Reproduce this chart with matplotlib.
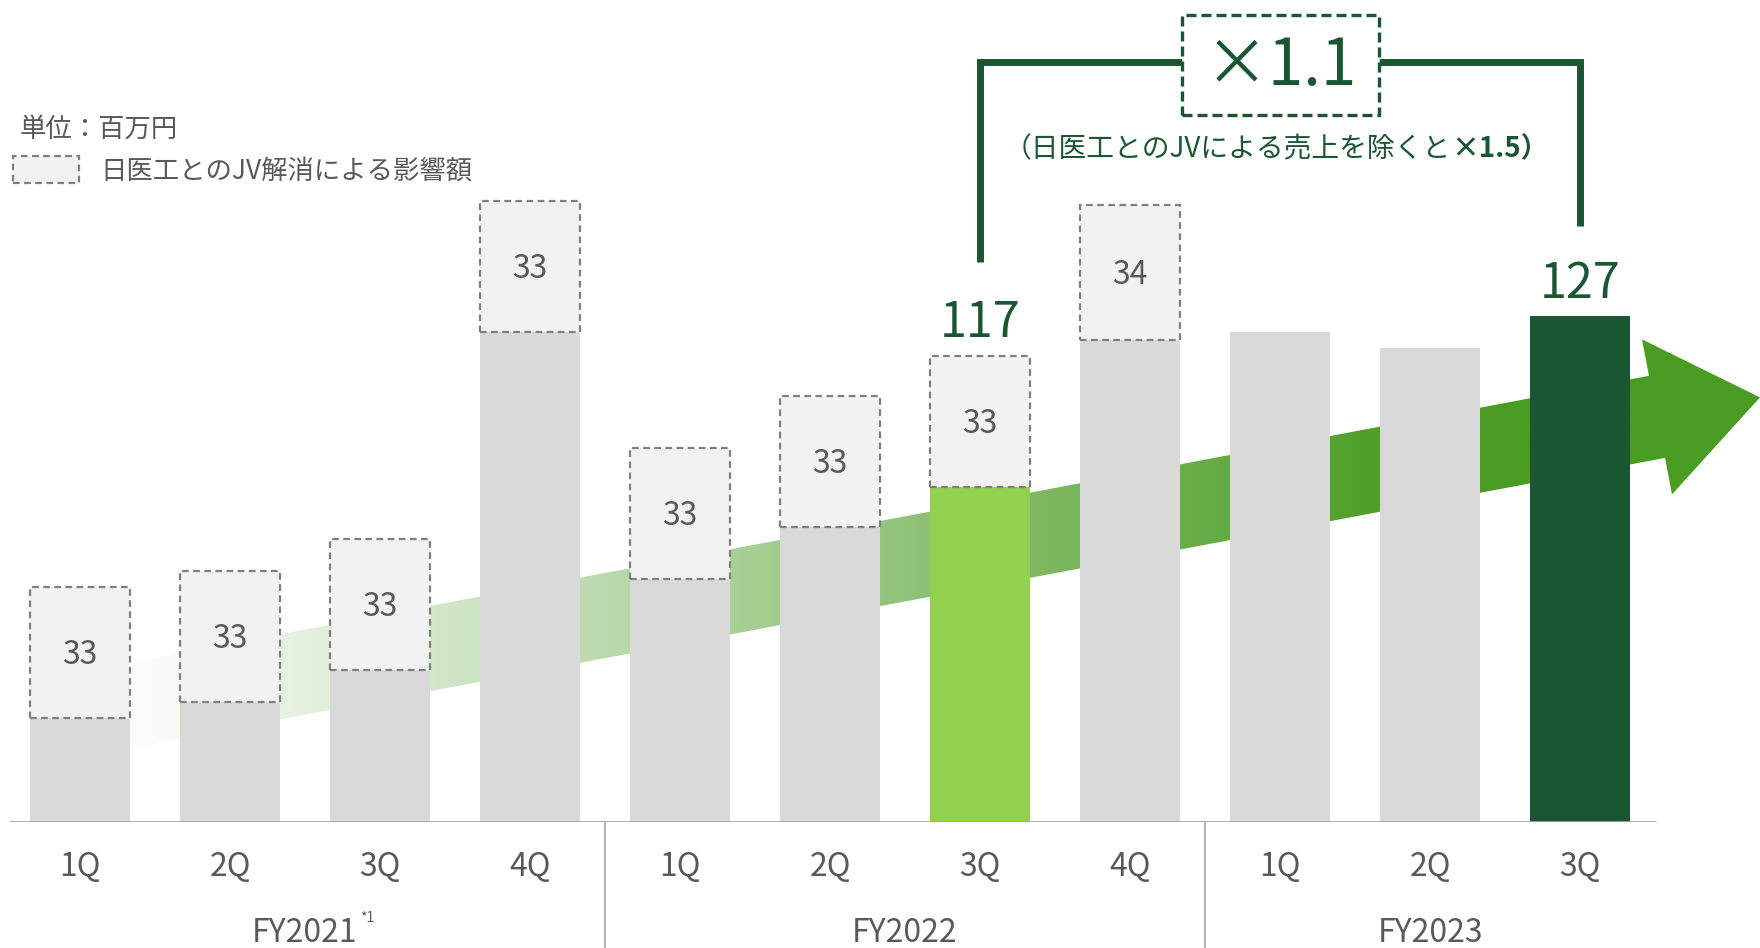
import numpy as np
import matplotlib.pyplot as plt
from matplotlib.colors import LinearSegmentedColormap
from matplotlib.patches import Polygon, Rectangle

plt.rcParams['font.family'] = ['Noto Sans CJK JP', 'DejaVu Sans']

# 四半期売上（単位：百万円）
quarters = ['1Q', '2Q', '3Q', '4Q', '1Q', '2Q', '3Q', '4Q', '1Q', '2Q', '3Q']
years = ['FY2021', 'FY2022', 'FY2023']
year_sizes = [4, 4, 3]
sales = [26, 30, 38, 123, 61, 74, 84, 121, 123, 119, 127]
jv_effect = [33, 33, 33, 33, 33, 33, 33, 34, 0, 0, 0]
highlight_prev = 6   # FY2022 3Q
highlight_now = 10   # FY2023 3Q

unit_label = '単位：百万円'
jv_label = '日医工とのJV解消による影響額'
ratio_label = '×1.1'
ratio_note = '（日医工とのJVによる売上を除くと'
ratio_note_bold = '×1.5）'

GRAY = '#d9d9d9'
LIGHT_GREEN = '#92d050'
DARK_GREEN = '#1b5632'
ARROW_GREEN = '#4a9c23'
TEXT_GRAY = '#595959'
LINE_GRAY = '#a6a6a6'

x = np.arange(len(sales))
sales = np.array(sales)
jv_effect = np.array(jv_effect)
totals = sales + jv_effect

fig = plt.figure(figsize=(17.6, 9.48), dpi=100)
ax = fig.add_axes([0, 0.1333, 1, 0.8667])

# --- background growth arrow with a white-to-green gradient ---
def centre(xv):
    return 28.3 + 7.12 * (xv - 0.2)

shaft_h, head_h = 10.7, 20.2
x0, tip = 0.2, 11.2
pts = [
    (x0, centre(x0) + shaft_h),
    (10.46, centre(10.46) + shaft_h),
    (10.413, centre(10.413) + head_h),
    (tip, centre(tip)),
    (10.613, centre(10.613) - head_h),
    (10.567, centre(10.567) - shaft_h),
    (x0, centre(x0) - shaft_h),
]
arrow = Polygon(pts, closed=True, facecolor='none', edgecolor='none', zorder=1)
ax.add_patch(arrow)
xs = np.linspace(x0, tip, 600)
grad = np.clip((xs - x0) / (8.9 - x0), 0, 1)[np.newaxis, :]
cmap = LinearSegmentedColormap.from_list('grow', ['#ffffff', ARROW_GREEN])
im = ax.imshow(grad, extent=[x0, tip, 0, 140], aspect='auto', cmap=cmap,
               vmin=0, vmax=1, zorder=1, interpolation='bilinear')
im.set_clip_path(arrow)

# --- bars ---
colors = [GRAY] * len(sales)
colors[highlight_prev] = LIGHT_GREEN
colors[highlight_now] = DARK_GREEN
width = 100 / 150
ax.bar(x, sales, width=width, color=colors, zorder=2)
has_jv = jv_effect > 0
jv_bars = ax.bar(x[has_jv], jv_effect[has_jv], bottom=sales[has_jv], width=width,
                 facecolor='#f2f2f2', edgecolor='#7f7f7f', linestyle=(0, (3, 2)),
                 linewidth=1.6, zorder=3)

def centred_text(s, xv, yv, size, **kw):
    # place the text so that its cap height is centred on yv
    return ax.annotate(s, (xv, yv), xytext=(0, -0.365 * size), textcoords='offset points',
                       ha='center', va='baseline', fontsize=size, annotation_clip=False, **kw)

for xi, s, j in zip(x, sales, jv_effect):
    if j > 0:
        centred_text(str(j), xi, s + j / 2, 23, color=TEXT_GRAY, zorder=4)

centred_text(str(totals[highlight_prev]), highlight_prev, totals[highlight_prev] + 9.2, 35,
             color=DARK_GREEN)
centred_text(str(totals[highlight_now]), highlight_now, totals[highlight_now] + 9.0, 35,
             color=DARK_GREEN)

# --- growth bracket between the two highlighted quarters ---
bracket_y = 190.8
box_l, box_r = 7.347, 8.66
ax.plot([highlight_prev, highlight_prev, box_l], [totals[highlight_prev] + 23.7, bracket_y, bracket_y],
        color=DARK_GREEN, lw=5, solid_joinstyle='miter', solid_capstyle='butt', zorder=3)
ax.plot([box_r, highlight_now, highlight_now], [bracket_y, bracket_y, totals[highlight_now] + 22.8],
        color=DARK_GREEN, lw=5, solid_joinstyle='miter', solid_capstyle='butt', zorder=3)
ax.add_patch(Rectangle((box_l, 177.7), box_r - box_l, 25.1, facecolor='white',
                       edgecolor=DARK_GREEN, linestyle=(0, (3, 1.5)), lw=2.4, zorder=4))
centred_text(ratio_label, (box_l + box_r) / 2, 191.0, 46, color=DARK_GREEN, zorder=5)
split_x = 9.14
note_size = 20
ax.annotate(ratio_note, (split_x, 169.5), xytext=(0, -0.365 * note_size), textcoords='offset points',
            ha='right', va='baseline', fontsize=note_size, color=DARK_GREEN)
ax.annotate(ratio_note_bold, (split_x, 169.5), xytext=(0, -0.365 * note_size), textcoords='offset points',
            ha='left', va='baseline', fontsize=note_size, color=DARK_GREEN, fontweight='bold')

# --- unit and legend ---
ax.annotate(unit_label, (-0.4, 174.6), xytext=(0, -0.365 * 19), textcoords='offset points',
            ha='left', va='baseline', fontsize=19, color=TEXT_GRAY)
ax.legend([jv_bars], [jv_label], loc='center left', bbox_to_anchor=(13 / 1760, 1 - 170 / 948),
          bbox_transform=fig.transFigure, frameon=False, fontsize=19, labelcolor=TEXT_GRAY,
          handlelength=2.5, handleheight=1.2, handletextpad=0.8, borderpad=0, borderaxespad=0)

# --- axis, quarter ticks and fiscal year groups ---
ax.hlines(0, -0.473, 10.507, color=LINE_GRAY, lw=2, zorder=3)
edges = np.cumsum(year_sizes)[:-1] - 0.5
ax.vlines(edges, -32, 0, color=LINE_GRAY, lw=1.2, clip_on=False)
ax.set_xticks(x, quarters)
ax.tick_params(axis='x', length=0, pad=21, labelsize=23, labelcolor=TEXT_GRAY)
ax.set_yticks([])
starts = np.concatenate([[0], np.cumsum(year_sizes)[:-1]])
year_texts = []
for name, st, n in zip(years, starts, year_sizes):
    t = ax.text(st + (n - 1) / 2, -30.2, name, ha='center', va='baseline', fontsize=23,
                color=TEXT_GRAY, clip_on=False)
    year_texts.append(t)
ax.annotate('*1', xy=(1, 1), xycoords=year_texts[0], xytext=(2, 4), textcoords='offset points',
            ha='left', va='top', fontsize=10, color=TEXT_GRAY)

for sp in ax.spines.values():
    sp.set_visible(False)
ax.set_xlim(-80 / 150, 1680 / 150)
ax.set_ylim(0, 206.5)

fig.savefig('out.png', dpi=100)
